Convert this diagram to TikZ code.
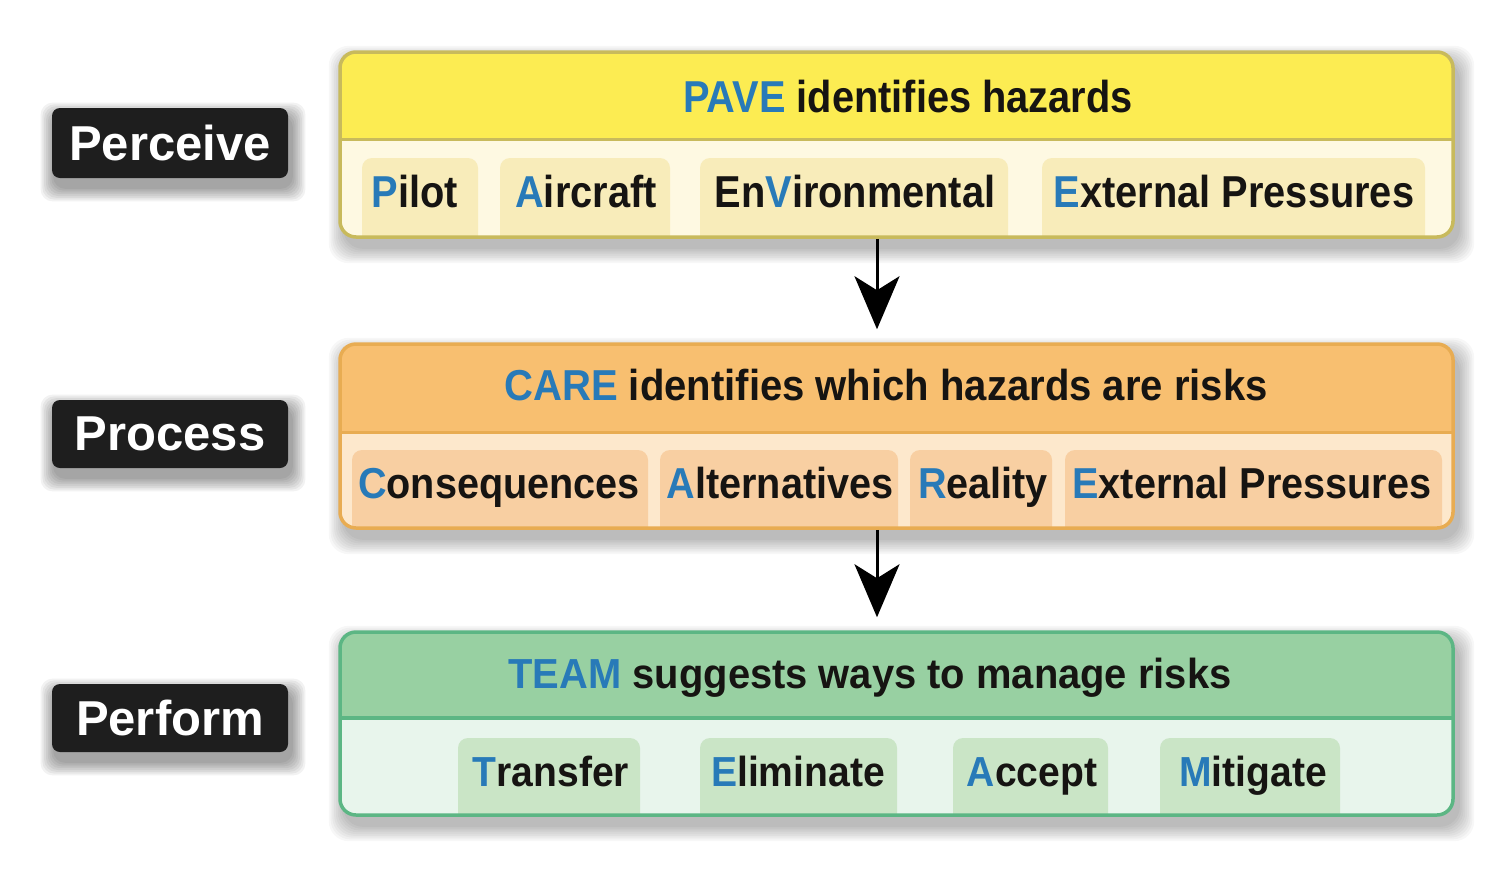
\documentclass[tikz,border=0pt]{standalone}
\usepackage{fontspec}
\setmainfont{Liberation Sans}
\usepackage{graphicx}
\usetikzlibrary{arrows.meta}

\definecolor{ink}{RGB}{22,20,18}
\definecolor{lblue}{RGB}{40,122,184}
\definecolor{yhead}{RGB}{252,236,82}
\definecolor{yborder}{RGB}{200,186,92}
\definecolor{ylow}{RGB}{254,249,226}
\definecolor{ytab}{RGB}{248,236,186}
\definecolor{ohead}{RGB}{248,191,112}
\definecolor{oborder}{RGB}{232,172,82}
\definecolor{olow}{RGB}{253,232,204}
\definecolor{otab}{RGB}{248,207,162}
\definecolor{ghead}{RGB}{152,208,162}
\definecolor{gborder}{RGB}{92,182,132}
\definecolor{glow}{RGB}{232,245,236}
\definecolor{gtab}{RGB}{202,229,198}
\definecolor{labblack}{RGB}{30,30,30}

\newcommand{\Bl}[1]{\textcolor{lblue}{#1}}
\newcommand{\fA}{\fontsize{44.7pt}{50pt}\selectfont\bfseries}
\newcommand{\fB}{\fontsize{43.3pt}{50pt}\selectfont\bfseries}
\newcommand{\fC}{\fontsize{42pt}{50pt}\selectfont\bfseries}
\newcommand{\boxshadow}[4]{%
  \foreach \i in {1,...,9}{%
    \fill[black, opacity=0.03, rounded corners=20pt]
      ({#1+5-\i*1.8},{#2+10-\i*1.8}) rectangle ({#3+5+\i*1.8},{#4+10+\i*1.8});
  }}
\newcommand{\labshadow}[4]{%
  \foreach \i in {1,...,8}{%
    \fill[black, opacity=0.05, rounded corners=12pt]
      ({#1+3-\i*1.8},{#2+9-\i*1.8}) rectangle ({#3+3+\i*1.8},{#4+9+\i*1.8});
  }}

\tikzset{
  txt/.style={inner sep=0pt, anchor=base, text=ink},
  outer/.style={line width=3.5pt, rounded corners=16pt, minimum width=1113pt,
    minimum height=185pt, inner sep=0pt},
  lab/.style={fill=labblack, rounded corners=8pt, minimum width=236pt,
    minimum height=70pt, inner sep=0pt, text=white,
    font=\fontsize{49pt}{55pt}\selectfont\bfseries},
  arr/.style={line width=3pt, draw=black,
    -{Stealth[length=53pt, width=45pt, inset=14pt]}, shorten >=13pt},
}

\begin{document}
\begin{tikzpicture}[x=1pt, y=-1pt]
\useasboundingbox (0,0) rectangle (1501,873);
\fill[white] (0,0) rectangle (1501,873);

% shadows
\boxshadow{340}{52}{1453}{237}
\boxshadow{340}{344}{1453}{528}
\boxshadow{340}{632}{1453}{815}
\labshadow{52}{108}{288}{178}
\labshadow{52}{400}{288}{468}
\labshadow{52}{684}{288}{752}

% ---------- PAVE box ----------
\begin{scope}
  \clip[rounded corners=16pt] (340,52) rectangle (1453,237);
  \fill[ylow] (340,52) rectangle (1453,237);
  \fill[yhead] (340,52) rectangle (1453,139);
  \foreach \a/\b in {362/478, 500/670, 700/1008, 1042/1425}
    \fill[ytab, rounded corners=10pt] (\a,158) rectangle (\b,260);
\end{scope}
\draw[yborder, line width=3pt] (340,139) -- (1453,139);
\node[outer, draw=yborder] (pave) at (896.5,144.5) {};

% ---------- CARE box ----------
\begin{scope}
  \clip[rounded corners=16pt] (340,344) rectangle (1453,528);
  \fill[olow] (340,344) rectangle (1453,528);
  \fill[ohead] (340,344) rectangle (1453,432);
  \foreach \a/\b in {352/648, 660/898, 910/1052, 1065/1442}
    \fill[otab, rounded corners=10pt] (\a,450) rectangle (\b,550);
\end{scope}
\draw[oborder, line width=3pt] (340,432) -- (1453,432);
\node[outer, draw=oborder, minimum height=184pt] (care) at (896.5,436) {};

% ---------- TEAM box ----------
\begin{scope}
  \clip[rounded corners=16pt] (340,632) rectangle (1453,815);
  \fill[glow] (340,632) rectangle (1453,815);
  \fill[ghead] (340,632) rectangle (1453,718);
  \foreach \a/\b in {458/640, 700/897, 953/1108, 1160/1340}
    \fill[gtab, rounded corners=10pt] (\a,738) rectangle (\b,840);
\end{scope}
\draw[gborder, line width=4.5pt] (340,718) -- (1453,718);
\node[outer, draw=gborder, minimum height=183pt] (team) at (896.5,723.5) {};

% ---------- texts ----------
\node[txt, font=\fA] (pavehead) at (908,112) {\scalebox{0.89}[1]{\Bl{PAVE} identifies hazards}};
\node[txt, font=\fA] (pilot) at (415,207) {\scalebox{0.89}[1]{\Bl{P}ilot}};
\node[txt, font=\fA] (aircraft) at (586,207) {\scalebox{0.89}[1]{\Bl{A}ircraft}};
\node[txt, font=\fA] (environ) at (855,207) {\scalebox{0.89}[1]{En\Bl{V}ironmental}};
\node[txt, font=\fA] (extp) at (1234,207) {\scalebox{0.89}[1]{\Bl{E}xternal Pressures}};

\node[txt, font=\fB] (carehead) at (886,400) {\scalebox{0.925}[1]{\Bl{CARE} identifies which hazards are risks}};
\node[txt, font=\fB] (conseq) at (499,498) {\scalebox{0.915}[1]{\Bl{C}onsequences}};
\node[txt, font=\fB] (altern) at (780,498) {\scalebox{0.915}[1]{\Bl{A}lternatives}};
\node[txt, font=\fB] (reality) at (983,498) {\scalebox{0.915}[1]{\Bl{R}eality}};
\node[txt, font=\fB] (extpc) at (1252,498) {\scalebox{0.915}[1]{\Bl{E}xternal Pressures}};

\node[txt, font=\fC] (teamhead) at (870,688) {\scalebox{0.95}[1]{\Bl{TEAM} suggests ways to manage risks}};
\node[txt, font=\fC] (transfer) at (551,786) {\scalebox{0.93}[1]{\Bl{T}ransfer}};
\node[txt, font=\fC] (elim) at (798,786) {\scalebox{0.93}[1]{\Bl{E}liminate}};
\node[txt, font=\fC] (accept) at (1032,786) {\scalebox{0.93}[1]{\Bl{A}ccept}};
\node[txt, font=\fC] (mitig) at (1253,786) {\scalebox{0.93}[1]{\Bl{M}itigate}};

% ---------- labels ----------
\node[lab] (perceive) at (170,143) {Perceive};
\node[lab, minimum height=68pt] (process) at (170,434) {Process};
\node[lab, minimum height=68pt] (perform) at (170,718) {Perform};

% ---------- arrows ----------
\coordinate (ax) at (877,0);
\draw[arr] (ax |- pave.south) -- (ax |- care.north);
\draw[arr] (ax |- care.south) -- (ax |- team.north);
\end{tikzpicture}
\end{document}
